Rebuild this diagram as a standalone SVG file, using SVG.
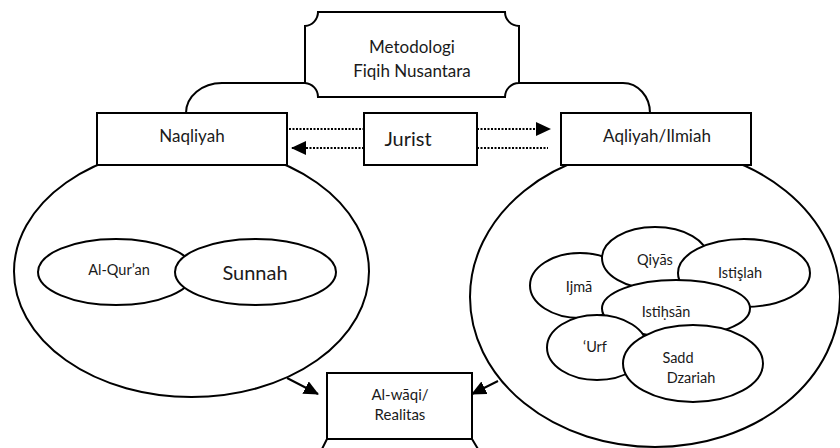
<svg xmlns="http://www.w3.org/2000/svg" width="840" height="448" viewBox="0 0 840 448">
<style>
  .ln{fill:none;stroke:#000;stroke-width:2}
  .sh{fill:#fff;stroke:#000;stroke-width:2}
  .big{fill:none;stroke:#000;stroke-width:2}
  .dot{fill:none;stroke:#000;stroke-width:2;stroke-dasharray:2 1.5}
  text{font-family:Lato,"Liberation Sans",sans-serif;fill:#1a1a1a;text-anchor:middle}
  .t17{font-size:17px}
  .t14{font-size:14.5px}
  .t15{font-size:15px}
  .t20{font-size:20px}
</style>
<defs>
  <marker id="ah" markerWidth="15" markerHeight="14" refX="14" refY="7" orient="auto" markerUnits="userSpaceOnUse">
    <path d="M0,0 L15,7 L0,14 Z" fill="#000"/>
  </marker>
</defs>

<g id="connectors">
  <path class="ln" d="M305,83 H222 A36,30 0 0 0 186,113"/>
  <path class="ln" d="M519,83 H623 A27,30 0 0 1 650,113"/>
  <line class="dot" x1="289" y1="129" x2="364" y2="129"/>
  <line class="dot" x1="477" y1="129" x2="550" y2="129" marker-end="url(#ah)"/>
  <line class="dot" x1="364" y1="148" x2="292" y2="148" marker-end="url(#ah)"/>
  <line class="dot" x1="477" y1="148" x2="548" y2="148"/>
  <line class="ln" x1="287" y1="378" x2="318" y2="394" marker-end="url(#ah)"/>
  <line class="ln" x1="498" y1="381" x2="472" y2="394" marker-end="url(#ah)"/>
  <path class="ln" d="M327,439 L322,449 M472,439 L478,449"/>
</g>

<g id="naqli-area">
  <ellipse class="big" cx="191.5" cy="271.5" rx="177.5" ry="125.5"/>
</g>
<g id="aqli-area">
  <ellipse class="big" cx="655" cy="297" rx="185" ry="150"/>
</g>

<g id="metodologi">
  <path class="sh" d="M318,12 H505 A14,14 0 0 0 519,26 V83 A14,14 0 0 0 505,97 H318 A14,14 0 0 0 305,83 V26 A14,14 0 0 0 318,12 Z"/>
  <text class="t17" x="412" y="53">Metodologi</text>
  <text class="t17" x="412" y="77">Fiqih Nusantara</text>
</g>

<g id="naqliyah">
  <rect class="sh" x="97" y="113" width="190" height="52"/>
  <text class="t17" x="192" y="142">Naqliyah</text>
</g>

<g id="jurist">
  <rect class="sh" x="364" y="113" width="113" height="52"/>
  <text class="t20" x="408" y="146">Jurist</text>
</g>

<g id="aqliyah">
  <rect class="sh" x="561" y="113" width="190" height="52"/>
  <text class="t17" x="657" y="142">Aqliyah/Ilmiah</text>
</g>

<g id="alquran">
  <ellipse class="sh" cx="116" cy="272" rx="78" ry="33"/>
  <text class="t14" x="119" y="275">Al-Qur’an</text>
</g>
<g id="sunnah">
  <ellipse class="sh" cx="255.5" cy="272" rx="80.5" ry="33"/>
  <text class="t20" x="255" y="280">Sunnah</text>
</g>

<g id="ijma">
  <ellipse class="sh" cx="580" cy="285.5" rx="50" ry="32.5"/>
  <text class="t14" x="579" y="292">Ijmā</text>
</g>
<g id="qiyas">
  <ellipse class="sh" cx="655" cy="258" rx="53" ry="31"/>
  <text class="t14" x="655" y="265">Qiyās</text>
</g>
<g id="istislah">
  <ellipse class="sh" cx="744" cy="273" rx="66" ry="34"/>
  <text class="t14" x="740" y="278">Istişlah</text>
</g>
<g id="istihsan">
  <ellipse class="sh" cx="676" cy="308.5" rx="74" ry="28.5"/>
  <text class="t14" x="666" y="317">Istiḥsān</text>
</g>
<g id="urf">
  <ellipse class="sh" cx="597" cy="347.5" rx="50" ry="32.5"/>
  <text class="t14" x="595" y="352">‘Urf</text>
</g>
<g id="sadd">
  <ellipse class="sh" cx="693" cy="363.5" rx="70" ry="38.5"/>
  <text class="t14" x="678" y="363">Sadd</text>
  <text class="t14" x="691" y="383">Dzariah</text>
</g>

<g id="alwaqi">
  <rect class="sh" x="327" y="373" width="145" height="66"/>
  <text class="t15" x="400" y="400">Al-wāqi/</text>
  <text class="t15" x="400" y="420">Realitas</text>
</g>
</svg>
